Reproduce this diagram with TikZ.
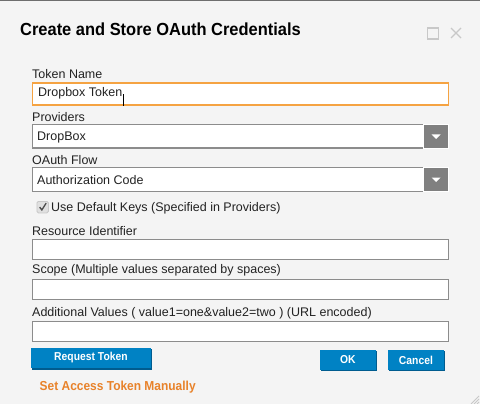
\documentclass[tikz,border=0pt]{standalone}
\usepackage{fontspec}
\setmainfont{Liberation Sans}
\newfontfamily\narrowbold[FakeStretch=0.92]{Liberation Sans Bold}
\newfontfamily\titlebold[FakeStretch=0.94]{Liberation Sans Bold}
\newfontfamily\btnbold[FakeStretch=0.9]{Liberation Sans Bold}
\definecolor{bgc}{HTML}{F4F4F4}
\definecolor{topc}{HTML}{6E6E6E}
\definecolor{fieldc}{HTML}{8C8C8C}
\definecolor{focusc}{HTML}{F5A342}
\definecolor{ddc}{HTML}{808080}
\definecolor{btnc}{HTML}{0082C4}
\definecolor{btnsh}{HTML}{005C8F}
\definecolor{linkc}{HTML}{E8822A}
\definecolor{iconc}{HTML}{C8C8C8}
\definecolor{txtc}{HTML}{222222}
\begin{document}
\begin{tikzpicture}[x=1pt,y=-1pt,
  lbl/.style={anchor=base west, inner sep=0, text=txtc, font=\fontsize{12.5}{14}\selectfont},
  field/.style={anchor=north west, draw=fieldc, fill=white, line width=1.2pt, inner sep=0, minimum height=#1},
  field/.default=20,
  ddbtn/.style={anchor=north west, draw=white, fill=ddc, line width=1pt, inner sep=0, minimum width=25, minimum height=24},
  btn/.style={anchor=north west, fill=btnc, inner sep=0, text=white, font=\btnbold\fontsize{11.5}{13}\selectfont},
  link/.style={anchor=base west, inner sep=0, text=linkc, font=\narrowbold\fontsize{13}{15}\selectfont},
  icon/.style={draw=iconc, line width=1.3pt}]
\useasboundingbox (0,0) rectangle (480,404);
\fill[bgc] (0,0) rectangle (480,404);
\fill[topc] (0,0) rectangle (480,1.5);
% title
\node[anchor=base west, inner sep=0, font=\titlebold\fontsize{17.5}{20}\selectfont] (title) at (20,36) {Create and Store OAuth Credentials};
% window icons
\node[icon, anchor=north west, minimum width=10.5, minimum height=11, inner sep=0] (maxi) at (427,27.5) {};
\coordinate (xa) at (451,28); \coordinate (xb) at (461,38);
\coordinate (xc) at (451,38); \coordinate (xd) at (461,28);
\draw[icon] (xa) -- (xb); \draw[icon] (xc) -- (xd);
% Token name
\node[lbl] (l1) at (32,79) {Token Name};
\node[field=22, draw=focusc, minimum width=416] (f1) at (31.5,82.5) {};
\node[lbl, anchor=base west] (t1) at (38,96.5) {Dropbox Token};
\coordinate (cur1) at ([xshift=0.8pt]t1.base east);
\draw[black, line width=1pt] ([yshift=-9.5]cur1) -- ([yshift=2.5]cur1);
% Providers
\node[lbl] (l2) at (32,121.5) {Providers};
\node[field=23.5, minimum width=392] (f2) at (31.5,124) {};
\node[ddbtn] (d2) at (423,124) {};
\fill[white] ([shift={(-4.5,-2)}]d2.center) -- ([shift={(4.5,-2)}]d2.center) -- ([shift={(0,2.5)}]d2.center) -- cycle;
\node[lbl] (t2) at (37,140.5) {DropBox};
% OAuth flow
\node[lbl] (l3) at (32,164.5) {OAuth Flow};
\node[field=23.5, minimum width=392] (f3) at (31.5,167) {};
\node[ddbtn] (d3) at (423,167) {};
\fill[white] ([shift={(-4.5,-2)}]d3.center) -- ([shift={(4.5,-2)}]d3.center) -- ([shift={(0,2.5)}]d3.center) -- cycle;
\node[lbl] (t3) at (37,184) {Authorization Code};
% checkbox
\node[anchor=north west, draw=iconc, fill=black!12, rounded corners=1.5pt, minimum width=11.5, minimum height=11.5, inner sep=0, line width=0.8pt] (cb) at (36.5,201) {};
\draw[black!70, line width=1.3pt] ([shift={(-3,0)}]cb.center) -- ([shift={(-0.8,2.8)}]cb.center) -- ([shift={(3.5,-4)}]cb.center);
\node[lbl] (l4) at (51,211.5) {Use Default Keys (Specified in Providers)};
% Resource Identifier
\node[lbl] (l5) at (32,235.5) {Resource Identifier};
\node[field=20, minimum width=416] (f5) at (31.5,238.5) {};
% Scope
\node[lbl] (l6) at (32,273) {Scope (Multiple values separated by spaces)};
\node[field=20, minimum width=416] (f6) at (31.5,278.5) {};
% Additional values
\node[lbl] (l7) at (32,316.5) {Additional Values ( value1=one\&value2=two ) (URL encoded)};
\node[field=20, minimum width=416] (f7) at (31.5,321) {};
% buttons
\fill[btnsh] (32,349) rectangle (151.5,369.5);
\node[btn, minimum width=119.5, minimum height=19.5] (b1) at (31,348) {Request Token};
\fill[btnsh] (321,351) rectangle (376.5,371);
\node[btn, minimum width=55.5, minimum height=19.5] (b2) at (320,350) {OK};
\fill[btnsh] (389,351) rectangle (444.5,371);
\node[btn, minimum width=55.5, minimum height=19.5] (b3) at (388,350) {Cancel};
% link
\node[link] (lk) at (39.5,390) {Set Access Token Manually};
% resize grip
\coordinate (g1a) at (479,396); \coordinate (g1b) at (471,404);
\coordinate (g2a) at (479,399); \coordinate (g2b) at (474,404);
\coordinate (g3a) at (479,402); \coordinate (g3b) at (477,404);
\draw[iconc, line width=0.8pt] (g1a) -- (g1b) (g2a) -- (g2b) (g3a) -- (g3b);
\end{tikzpicture}
\end{document}
